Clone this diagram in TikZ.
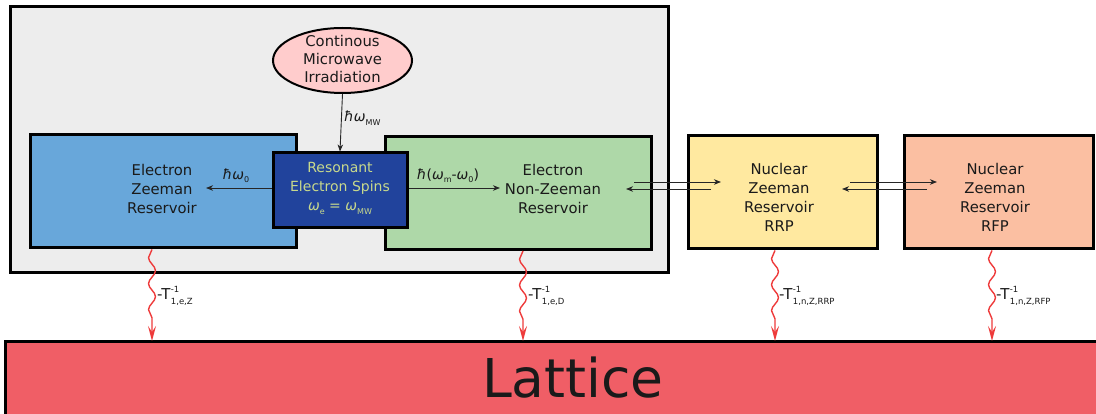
\documentclass[tikz,border=0pt]{standalone}
\usepackage{fontspec}
\setmainfont{DejaVu Sans}
\usetikzlibrary{arrows.meta,decorations.pathmorphing,shapes.geometric}
\definecolor{grayfill}{HTML}{EDEDED}
\definecolor{bluefill}{HTML}{68A7DA}
\definecolor{darkblue}{HTML}{21439C}
\definecolor{restext}{HTML}{C8D98C}
\definecolor{greenfill}{HTML}{AED8A8}
\definecolor{yellowfill}{HTML}{FFE9A0}
\definecolor{orangefill}{HTML}{FBBFA2}
\definecolor{pinkfill}{HTML}{FFCCCC}
\definecolor{latticefill}{HTML}{F05E66}
\definecolor{wavered}{HTML}{EE3B3B}
\definecolor{txt}{HTML}{1A1A1A}
\newcommand{\sbx}[1]{\raisebox{-0.45ex}{\fontsize{8}{8}\selectfont #1}}
\newcommand{\hw}{{\itshape ħω}}
\newcommand{\w}{{\itshape ω}}
\newcommand{\tsz}{\fontsize{8.5}{8.5}\selectfont}
\newcommand{\tlab}[2]{-T\kern0.5pt\rlap{\raisebox{7pt}{\tsz #1}}\raisebox{-5pt}{\tsz #2}}
\begin{document}
\begin{tikzpicture}[x=1pt,y=-1pt,
  box/.style={draw=black, line width=3pt, inner sep=0pt},
  btxt/.style={align=center, inner sep=0pt, text=txt, font=\fontsize{14.8}{19}\selectfont},
  arr/.style={-{Stealth[length=7pt,width=5.5pt,inset=2pt]}, line width=0.9pt, black!85},
  wavy/.style={draw=wavered, line width=1.4pt,
    decorate, decoration={snake, segment length=26pt, amplitude=-3.5pt, post length=20pt},
    -{Stealth[length=15pt,width=8pt,inset=6pt]}},
  lbl/.style={font=\fontsize{14}{16}\selectfont, inner sep=1pt, text=txt},
  tlbl/.style={font=\fontsize{15}{16}\selectfont, inner sep=0pt, anchor=base west, text=txt}]
\useasboundingbox (0,0) rectangle (1096,414);

% outer grey region
\node[box, fill=grayfill, minimum width=658pt, minimum height=266pt] (outer) at (339,140) {};

% ellipse
\node[ellipse, draw=black, line width=2pt, fill=pinkfill, minimum width=139pt, minimum height=65pt,
  inner sep=0pt] (mw) at (342.5,60.5) {};
\node[btxt, font=\fontsize{14.8}{18}\selectfont] (mwt) at (342.5,59) {Continous\\Microwave\\Irradiation};

% reservoirs
\node[box, fill=bluefill, minimum width=266pt, minimum height=113pt] (ez) at (163,191.5) {};
\node[btxt] (ezt) at (162,188.5) {Electron\\Zeeman\\Reservoir};
\node[box, fill=greenfill, minimum width=266pt, minimum height=113pt] (enz) at (518,193) {};
\node[btxt] (enzt) at (553,188.5) {Electron\\Non-Zeeman\\Reservoir};
\node[box, fill=darkblue, minimum width=134pt, minimum height=75pt] (res) at (340,190.5) {};
\node[btxt, text=restext, font=\fontsize{14}{19}\selectfont] (rest) at (340,188.5)
  {Resonant\\Electron Spins\\\w\sbx{e} = \w\sbx{MW}};
\node[box, fill=yellowfill, minimum width=189pt, minimum height=113pt] (rrp) at (782.5,192.5) {};
\node[btxt] (rrpt) at (779,197) {Nuclear\\Zeeman\\Reservoir\\RRP};
\node[box, fill=orangefill, minimum width=189pt, minimum height=113pt] (rfp) at (998.5,192.5) {};
\node[btxt] (rfpt) at (995,197) {Nuclear\\Zeeman\\Reservoir\\RFP};

% lattice
\draw[draw=black, line width=3pt, fill=latticefill] (5,342) rectangle (1102,420);
\node[font=\fontsize{53.5}{58}\selectfont, inner sep=0pt, text=txt] (lat) at (573,378) {Lattice};

% black arrows
\draw[arr] (mw.south) -- (res.north);
\node[lbl, anchor=west] (lmw) at (343,118) {\hw\sbx{MW}};
\coordinate (ezin) at (206,188);
\draw[arr] (res.west |- ezin) -- (ezin);
\node[lbl] (l0) at (236,176) {\hw\sbx{0}};
\coordinate (enzin) at (500,188);
\draw[arr] (res.east |- enzin) -- (enzin);
\node[lbl] (lm0) at (448,176) {{\itshape ħ}(\w\sbx{m}-\w\sbx{0})};

% exchange arrows
\coordinate (a1s) at (634,182); \coordinate (a1e) at (721,182);
\coordinate (a2s) at (711,189); \coordinate (a2e) at (626,189);
\coordinate (b1s) at (850,182); \coordinate (b1e) at (937,182);
\coordinate (b2s) at (927,189); \coordinate (b2e) at (842,189);
\draw[arr] (a1s) -- (a1e);
\draw[arr] (a2s) -- (a2e);
\draw[arr] (b1s) -- (b1e);
\draw[arr] (b2s) -- (b2e);

% relaxation (wavy) arrows
\coordinate (w1) at (152,341); \coordinate (w2) at (523,341);
\coordinate (w3) at (775,341); \coordinate (w4) at (992,341);
\draw[wavy] (ez.south -| w1) -- (w1);
\draw[wavy] (enz.south -| w2) -- (w2);
\draw[wavy] (rrp.south -| w3) -- (w3);
\draw[wavy] (rfp.south -| w4) -- (w4);
\node[tlbl] (t1) at (157,300) {\tlab{-1}{1,e,Z}};
\node[tlbl] (t2) at (528,300) {\tlab{-1}{1,e,D}};
\node[tlbl] (t3) at (779,300) {\tlab{-1}{1,n,Z,RRP}};
\node[tlbl] (t4) at (996,300) {\tlab{-1}{1,n,Z,RFP}};
\end{tikzpicture}
\end{document}
